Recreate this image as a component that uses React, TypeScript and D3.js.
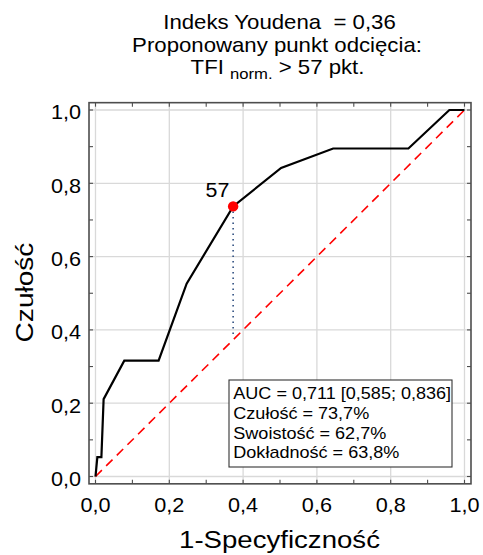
import React from 'react';
import * as d3 from 'd3';

// ROC curve (1-specificity, sensitivity)
const fpr = [0, 0.005, 0.016, 0.022, 0.078, 0.171, 0.247, 0.373, 0.503, 0.644, 0.848, 0.959, 1.0];
const tpr = [0, 0.053, 0.053, 0.211, 0.316, 0.316, 0.526, 0.737, 0.842, 0.895, 0.895, 1.0, 1.0];

const cutoffFpr = 0.373;
const cutoffTpr = 0.737;
const cutoffLabel = '57';

const majorTicks = [0, 0.2, 0.4, 0.6, 0.8, 1.0];
const minorTicks = [0, 0.1, 0.2, 0.3, 0.4, 0.5, 0.6, 0.7, 0.8, 0.9, 1.0];
const fmt = (v: number) => v.toFixed(1).replace('.', ',');

const titleLine1 = 'Indeks Youdena  = 0,36';
const titleLine2 = 'Proponowany punkt odcięcia:';
const titleLine3 = ['TFI ', 'norm.', ' > 57 pkt.'];
const xTitle = '1-Specyficzność';
const yTitle = 'Czułość';
const legendLines = [
  'AUC = 0,711 [0,585; 0,836]',
  'Czułość = 73,7%',
  'Swoistość = 62,7%',
  'Dokładność = 63,8%',
];

const FONT = '"Liberation Sans", Arial, sans-serif';
const W = 483;
const H = 555;

export default function App() {
  const x = d3.scaleLinear().domain([0, 1]).range([95.5, 464.5]);
  const y = d3.scaleLinear().domain([0, 1]).range([476.5, 110]);
  const frame = { x0: x(-0.0176), x1: x(1.0176), y0: y(1.02), y1: y(-0.02) };

  const pts = fpr.map((f, i) => [f, tpr[i]] as [number, number]);
  const line = d3
    .line<[number, number]>()
    .x((d) => x(d[0]))
    .y((d) => y(d[1]));

  const tickLen = 4;
  const frameColor = '#4d4d4d';

  return (
    <div style={{ position: 'absolute', left: 0, top: 0 }}>
      <svg width={W} height={H} style={{ display: 'block', background: '#fff' }} fontFamily={FONT}>
        <rect x={0} y={0} width={W} height={H} fill="#fff" />

        {/* title */}
        <g fill="#000" fontSize={20} textAnchor="middle">
          <text transform="translate(279.5,29.3) scale(1.11,1)" style={{ whiteSpace: 'pre' }}>
            {titleLine1}
          </text>
          <text transform="translate(277,51.7) scale(1.11,1)">{titleLine2}</text>
          <text transform="translate(277.5,74) scale(1.11,1)" style={{ whiteSpace: 'pre' }}>
            {titleLine3[0]}
            <tspan fontSize={15} dy={4.5}>
              {titleLine3[1]}
            </tspan>
            <tspan dy={-4.5}>{titleLine3[2]}</tspan>
          </text>
        </g>

        {/* grid */}
        <g stroke="#d9d9d9" strokeWidth={1.3}>
          {majorTicks.map((v) => (
            <line key={'gx' + v} x1={x(v)} x2={x(v)} y1={frame.y0} y2={frame.y1} />
          ))}
          {majorTicks.map((v) => (
            <line key={'gy' + v} x1={frame.x0} x2={frame.x1} y1={y(v)} y2={y(v)} />
          ))}
        </g>

        {/* diagonal reference */}
        <line
          x1={x(0)}
          y1={y(0)}
          x2={x(1)}
          y2={y(1)}
          stroke="#ff0000"
          strokeWidth={1.6}
          strokeDasharray="9 6"
        />

        {/* cut-off drop line */}
        <line
          x1={x(cutoffFpr)}
          x2={x(cutoffFpr)}
          y1={y(cutoffTpr) + 5}
          y2={y(cutoffFpr) - 4}
          stroke="#2f4f80"
          strokeWidth={1.6}
          strokeDasharray="1.5 4"
        />

        {/* ROC curve */}
        <path d={line(pts) || ''} fill="none" stroke="#000" strokeWidth={2.2} strokeLinejoin="miter" />

        <circle cx={x(cutoffFpr)} cy={y(cutoffTpr)} r={5.2} fill="#ff0000" />
        <text
          transform={`translate(${x(cutoffFpr) - 3.8},${y(cutoffTpr) - 9.4}) scale(1.07,1)`}
          fontSize={20}
          textAnchor="end"
          fill="#000"
        >
          {cutoffLabel}
        </text>

        {/* frame and ticks */}
        <rect
          x={frame.x0}
          y={frame.y0}
          width={frame.x1 - frame.x0}
          height={frame.y1 - frame.y0}
          fill="none"
          stroke={frameColor}
          strokeWidth={1.6}
        />
        <g stroke={frameColor} strokeWidth={1.1}>
          {minorTicks.map((v) => (
            <g key={'t' + v}>
              <line x1={x(v)} x2={x(v)} y1={frame.y1} y2={frame.y1 - tickLen} />
              <line x1={x(v)} x2={x(v)} y1={frame.y0} y2={frame.y0 + tickLen} />
              <line x1={frame.x0} x2={frame.x0 + tickLen} y1={y(v)} y2={y(v)} />
              <line x1={frame.x1} x2={frame.x1 - tickLen} y1={y(v)} y2={y(v)} />
            </g>
          ))}
        </g>

        {/* tick labels */}
        <g fontSize={19.5} fill="#000">
          {majorTicks.map((v) => (
            <text
              key={'lx' + v}
              transform={`translate(${x(v)},511.7) scale(1.11,1)`}
              textAnchor="middle"
            >
              {fmt(v)}
            </text>
          ))}
          {majorTicks.map((v) => (
            <text
              key={'ly' + v}
              transform={`translate(81,${y(v) + 9.3}) scale(1.11,1)`}
              textAnchor="end"
            >
              {fmt(v)}
            </text>
          ))}
        </g>

        {/* axis titles */}
        <text transform="translate(279.5,548.3) scale(1.15,1)" fontSize={24} textAnchor="middle" fill="#000">
          {xTitle}
        </text>
        <text
          transform="translate(33,292.5) rotate(-90) scale(1.17,1)"
          fontSize={24}
          textAnchor="middle"
          fill="#000"
        >
          {yTitle}
        </text>

        {/* stats box */}
        <rect x={229} y={380} width={223} height={87} fill="#fff" stroke="#333" strokeWidth={1.1} />
        <g fontSize={15.7} fill="#000">
          {legendLines.map((t, i) => (
            <text key={t} transform={`translate(233.3,${399.3 + i * 19.7}) scale(1.15,1)`}>
              {t}
            </text>
          ))}
        </g>
      </svg>
    </div>
  );
}
